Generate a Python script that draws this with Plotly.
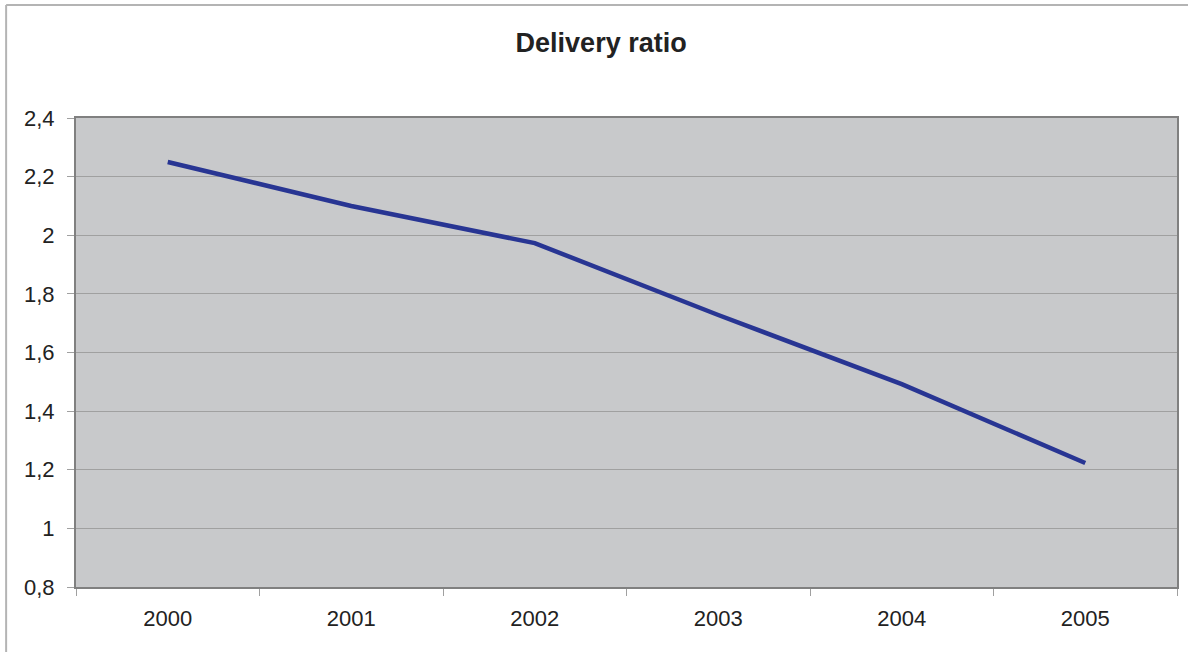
import plotly.graph_objects as go

years = ["2000", "2001", "2002", "2003", "2004", "2005"]
ratio = [2.25, 2.10, 1.973, 1.728, 1.492, 1.223]
y_ticks = [0.8, 1.0, 1.2, 1.4, 1.6, 1.8, 2.0, 2.2, 2.4]
y_labels = ["0,8", "1", "1,2", "1,4", "1,6", "1,8", "2", "2,2", "2,4"]

W, H = 1188, 652
L, R, T, B = 76, 9, 118, 65
pw, ph = W - L - R, H - T - B

fig = go.Figure()
fig.add_trace(go.Scatter(
    x=years, y=ratio, mode="lines",
    line=dict(color="#283593", width=4.5),
    showlegend=False, hoverinfo="x+y",
))

font_family = "Liberation Sans, Arial, sans-serif"

fig.update_layout(
    width=W, height=H,
    margin=dict(l=L, r=R, t=T, b=B, pad=0),
    paper_bgcolor="white",
    plot_bgcolor="#C8C9CB",
    separators=", ",
    font=dict(family=font_family, size=22, color="#222222"),
    title=dict(text="<b>Delivery ratio</b>", x=0.506, xref="container", xanchor="center",
               y=1 - 43 / H, yref="container", yanchor="middle",
               font=dict(family=font_family, size=27, color="#222222")),
    xaxis=dict(type="category", range=[-0.5, 5.5], tickson="boundaries",
               ticks="outside", ticklen=7, tickcolor="#A0A0A0", tickwidth=1,
               showgrid=False, showline=True, linecolor="#808080", linewidth=2,
               mirror=True, ticklabelstandoff=11, zeroline=False),
    yaxis=dict(range=[0.8, 2.4], tickvals=y_ticks, ticktext=y_labels,
               ticks="outside", ticklen=7, tickcolor="#A0A0A0", tickwidth=1,
               showgrid=True, gridcolor="#A0A0A0", gridwidth=1,
               showline=True, linecolor="#808080", linewidth=2, mirror=True,
               ticklabelstandoff=8, zeroline=False),
)

# outer chart border (left and top edges visible)
x_left = (6 - L) / pw
y_top = (H - B - 5) / ph
fig.add_shape(type="line", xref="paper", yref="paper",
              x0=x_left, x1=x_left, y0=-B / ph - 0.05, y1=y_top,
              line=dict(color="#B4B4B4", width=2))
fig.add_shape(type="line", xref="paper", yref="paper",
              x0=x_left, x1=(W + 30 - L) / pw, y0=y_top, y1=y_top,
              line=dict(color="#B4B4B4", width=2))

fig.write_html("out.html", config={"displayModeBar": False})
